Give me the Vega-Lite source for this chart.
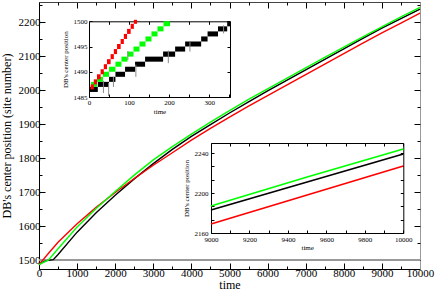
{
  "$schema": "https://vega.github.io/schema/vega-lite/v6.json",
  "width": 381,
  "height": 267,
  "autosize": {"type": "none"},
  "padding": {"left": 39, "top": 2, "right": 16, "bottom": 25},
  "background": "white",
  "config": {
    "view": {"stroke": null},
    "font": "Liberation Serif",
    "axis": {
      "labelFont": "Liberation Serif",
      "titleFont": "Liberation Serif",
      "titleFontWeight": "normal",
      "grid": false,
      "domainColor": "black",
      "tickColor": "black",
      "labelColor": "black",
      "titleColor": "black",
      "labelFlush": false,
      "labelOverlap": false,
      "labelBound": false,
      "format": "d"
    }
  },
  "datasets": {
    "main": [
      {"s": "A", "t": 0, "v": 1486.5}, {"s": "A", "t": 100, "v": 1494}, {"s": "A", "t": 200, "v": 1498}, {"s": "A", "t": 375, "v": 1501},
      {"s": "A", "t": 500, "v": 1516}, {"s": "A", "t": 1000, "v": 1582}, {"s": "A", "t": 1500, "v": 1639}, {"s": "A", "t": 2000, "v": 1691},
      {"s": "A", "t": 2500, "v": 1739}, {"s": "A", "t": 3000, "v": 1784}, {"s": "A", "t": 3500, "v": 1826}, {"s": "A", "t": 4000, "v": 1864},
      {"s": "A", "t": 4500, "v": 1899}, {"s": "A", "t": 5000, "v": 1933}, {"s": "A", "t": 5500, "v": 1966}, {"s": "A", "t": 6000, "v": 1998},
      {"s": "A", "t": 6500, "v": 2029}, {"s": "A", "t": 7000, "v": 2060}, {"s": "A", "t": 7500, "v": 2091}, {"s": "A", "t": 8000, "v": 2122},
      {"s": "A", "t": 8500, "v": 2153}, {"s": "A", "t": 9000, "v": 2183}, {"s": "A", "t": 9500, "v": 2211}, {"s": "A", "t": 10000, "v": 2239},
      {"s": "B", "t": 0, "v": 1486.5}, {"s": "B", "t": 250, "v": 1520}, {"s": "B", "t": 500, "v": 1552}, {"s": "B", "t": 1000, "v": 1607},
      {"s": "B", "t": 1500, "v": 1655}, {"s": "B", "t": 2000, "v": 1699}, {"s": "B", "t": 2500, "v": 1740}, {"s": "B", "t": 3000, "v": 1779},
      {"s": "B", "t": 3500, "v": 1816}, {"s": "B", "t": 4000, "v": 1853}, {"s": "B", "t": 4500, "v": 1888}, {"s": "B", "t": 5000, "v": 1921},
      {"s": "B", "t": 5500, "v": 1953}, {"s": "B", "t": 6000, "v": 1984}, {"s": "B", "t": 6500, "v": 2015}, {"s": "B", "t": 7000, "v": 2046},
      {"s": "B", "t": 7500, "v": 2077}, {"s": "B", "t": 8000, "v": 2108}, {"s": "B", "t": 8500, "v": 2139}, {"s": "B", "t": 9000, "v": 2169},
      {"s": "B", "t": 9500, "v": 2198}, {"s": "B", "t": 10000, "v": 2227},
      {"s": "C", "t": 0, "v": 1486.5}, {"s": "C", "t": 250, "v": 1500}, {"s": "C", "t": 500, "v": 1533}, {"s": "C", "t": 1000, "v": 1597},
      {"s": "C", "t": 1500, "v": 1652}, {"s": "C", "t": 2000, "v": 1702}, {"s": "C", "t": 2500, "v": 1750}, {"s": "C", "t": 3000, "v": 1795},
      {"s": "C", "t": 3500, "v": 1834}, {"s": "C", "t": 4000, "v": 1871}, {"s": "C", "t": 4500, "v": 1906}, {"s": "C", "t": 5000, "v": 1940},
      {"s": "C", "t": 5500, "v": 1973}, {"s": "C", "t": 6000, "v": 2004}, {"s": "C", "t": 6500, "v": 2035}, {"s": "C", "t": 7000, "v": 2066},
      {"s": "C", "t": 7500, "v": 2097}, {"s": "C", "t": 8000, "v": 2127}, {"s": "C", "t": 8500, "v": 2157}, {"s": "C", "t": 9000, "v": 2187},
      {"s": "C", "t": 9500, "v": 2216}, {"s": "C", "t": 10000, "v": 2244}
    ],
    "blocks": [
      {"s": "A", "t0": 0, "t1": 22, "lo": 1486, "hi": 1487}, {"s": "A", "t0": 22, "t1": 50, "lo": 1487, "hi": 1488},
      {"s": "A", "t0": 50, "t1": 66, "lo": 1488, "hi": 1489}, {"s": "A", "t0": 66, "t1": 90, "lo": 1489, "hi": 1490},
      {"s": "A", "t0": 90, "t1": 115, "lo": 1490, "hi": 1491}, {"s": "A", "t0": 115, "t1": 140, "lo": 1491, "hi": 1492},
      {"s": "A", "t0": 140, "t1": 185, "lo": 1492, "hi": 1493}, {"s": "A", "t0": 185, "t1": 215, "lo": 1493, "hi": 1494},
      {"s": "A", "t0": 215, "t1": 240, "lo": 1494, "hi": 1495}, {"s": "A", "t0": 240, "t1": 280, "lo": 1495, "hi": 1496},
      {"s": "A", "t0": 280, "t1": 296, "lo": 1496, "hi": 1497}, {"s": "A", "t0": 296, "t1": 322, "lo": 1497, "hi": 1498},
      {"s": "A", "t0": 322, "t1": 345, "lo": 1498, "hi": 1499}, {"s": "A", "t0": 345, "t1": 352, "lo": 1499, "hi": 1500},
      {"s": "C", "t0": 5, "t1": 20, "lo": 1487, "hi": 1488}, {"s": "C", "t0": 20, "t1": 35, "lo": 1488, "hi": 1489},
      {"s": "C", "t0": 35, "t1": 50, "lo": 1489, "hi": 1490}, {"s": "C", "t0": 50, "t1": 66, "lo": 1490, "hi": 1491},
      {"s": "C", "t0": 66, "t1": 81, "lo": 1491, "hi": 1492}, {"s": "C", "t0": 81, "t1": 96, "lo": 1492, "hi": 1493},
      {"s": "C", "t0": 96, "t1": 111, "lo": 1493, "hi": 1494}, {"s": "C", "t0": 111, "t1": 126, "lo": 1494, "hi": 1495},
      {"s": "C", "t0": 126, "t1": 141, "lo": 1495, "hi": 1496}, {"s": "C", "t0": 141, "t1": 156, "lo": 1496, "hi": 1497},
      {"s": "C", "t0": 156, "t1": 171, "lo": 1497, "hi": 1498}, {"s": "C", "t0": 171, "t1": 186, "lo": 1498, "hi": 1499},
      {"s": "C", "t0": 186, "t1": 202, "lo": 1499, "hi": 1500},
      {"s": "B", "t0": 4, "t1": 12, "lo": 1486.5, "hi": 1487.5}, {"s": "B", "t0": 12, "t1": 20, "lo": 1487.5, "hi": 1488.5},
      {"s": "B", "t0": 20, "t1": 29, "lo": 1488.5, "hi": 1489.5}, {"s": "B", "t0": 29, "t1": 37, "lo": 1489.5, "hi": 1490.5},
      {"s": "B", "t0": 37, "t1": 45, "lo": 1490.5, "hi": 1491.5}, {"s": "B", "t0": 45, "t1": 54, "lo": 1491.5, "hi": 1492.5},
      {"s": "B", "t0": 54, "t1": 62, "lo": 1492.5, "hi": 1493.5}, {"s": "B", "t0": 62, "t1": 70, "lo": 1493.5, "hi": 1494.5},
      {"s": "B", "t0": 70, "t1": 79, "lo": 1494.5, "hi": 1495.5}, {"s": "B", "t0": 79, "t1": 87, "lo": 1495.5, "hi": 1496.5},
      {"s": "B", "t0": 87, "t1": 95, "lo": 1496.5, "hi": 1497.5}, {"s": "B", "t0": 95, "t1": 104, "lo": 1497.5, "hi": 1498.5},
      {"s": "B", "t0": 104, "t1": 112, "lo": 1498.5, "hi": 1499.5}, {"s": "B", "t0": 112, "t1": 120, "lo": 1499.5, "hi": 1500.3}
    ],
    "spikes": [
      {"s": "A", "t": 36, "lo": 1485.8, "hi": 1488.2}, {"s": "A", "t": 49, "lo": 1485.2, "hi": 1487.8},
      {"s": "A", "t": 61, "lo": 1487, "hi": 1489}, {"s": "A", "t": 117, "lo": 1489, "hi": 1491.4},
      {"s": "A", "t": 198, "lo": 1491.7, "hi": 1494.2}, {"s": "A", "t": 252, "lo": 1494, "hi": 1495.9},
      {"s": "A", "t": 336, "lo": 1497.6, "hi": 1499.2}, {"s": "C", "t": 97, "lo": 1492.3, "hi": 1494.1}
    ],
    "ref": [{"level": 1500}]
  },
  "layer": [
    {
      "data": {"name": "ref"},
      "mark": {"type": "rule", "color": "#999999", "strokeWidth": 2},
      "encoding": {
        "y": {"field": "level", "type": "quantitative",
          "scale": {"domain": [1473.5, 2260], "nice": false, "zero": false},
          "axis": {"orient": "left", "values": [1500,1550,1600,1650,1700,1750,1800,1850,1900,1950,2000,2050,2100,2150,2200,2250], "labels": false, "domain": false, "tickSize": -3, "title": null}}
      }
    },
    {
      "data": {"name": "main"},
      "mark": {"type": "line", "strokeWidth": 1.4},
      "encoding": {
        "x": {"field": "t", "type": "quantitative",
          "scale": {"domain": [0, 10000], "nice": false, "zero": false},
          "axis": {"orient": "bottom", "values": [0,1000,2000,3000,4000,5000,6000,7000,8000,9000,10000], "tickSize": -6, "labelPadding": 4, "labelFontSize": 11, "title": "time", "titleFontSize": 12, "titlePadding": 1}},
        "y": {"field": "v", "type": "quantitative",
          "scale": {"domain": [1473.5, 2260], "nice": false, "zero": false},
          "axis": {"orient": "left", "values": [1500,1600,1700,1800,1900,2000,2100,2200], "tickSize": -6, "labelPadding": 5, "labelFontSize": 11, "title": "DB's center position (site number)", "titleFontSize": 12, "titlePadding": 5}},
        "color": {"field": "s", "type": "nominal", "scale": {"domain": ["A", "B", "C"], "range": ["#000000", "#ff0000", "#00ff00"]}, "legend": null}
      }
    },
    {
      "data": {"name": "main"},
      "mark": {"type": "line", "strokeOpacity": 0},
      "encoding": {
        "x": {"field": "t", "type": "quantitative",
          "scale": {"domain": [0, 10000], "nice": false, "zero": false},
          "axis": {"orient": "bottom", "values": [500,1500,2500,3500,4500,5500,6500,7500,8500,9500], "labels": false, "domain": false, "tickSize": -3, "title": null}},
        "y": {"field": "v", "type": "quantitative",
          "scale": {"domain": [1473.5, 2260], "nice": false, "zero": false},
          "axis": {"orient": "right", "values": [1500,1600,1700,1800,1900,2000,2100,2200], "labels": false, "domainColor": "#999999", "tickSize": -6, "title": null}}
      }
    },
    {
      "data": {"name": "main"},
      "mark": {"type": "line", "strokeOpacity": 0},
      "encoding": {
        "x": {"field": "t", "type": "quantitative",
          "scale": {"domain": [0, 10000], "nice": false, "zero": false},
          "axis": {"orient": "top", "values": [0,1000,2000,3000,4000,5000,6000,7000,8000,9000,10000], "labels": false, "domainColor": "#444444", "tickSize": -6, "title": null}},
        "y": {"field": "v", "type": "quantitative",
          "scale": {"domain": [1473.5, 2260], "nice": false, "zero": false},
          "axis": {"orient": "right", "values": [1500,1550,1600,1650,1700,1750,1800,1850,1900,1950,2000,2050,2100,2150,2200,2250], "labels": false, "domain": false, "tickSize": -3, "title": null}}
      }
    },
    {
      "data": {"name": "main"},
      "mark": {"type": "line", "strokeOpacity": 0},
      "encoding": {
        "x": {"field": "t", "type": "quantitative",
          "scale": {"domain": [0, 10000], "nice": false, "zero": false},
          "axis": {"orient": "top", "values": [500,1500,2500,3500,4500,5500,6500,7500,8500,9500], "labels": false, "domain": false, "tickSize": -3, "title": null}},
        "y": {"field": "v", "type": "quantitative",
          "scale": {"domain": [1473.5, 2260], "nice": false, "zero": false}, "axis": null}
      }
    },
    {
      "data": {"name": "blocks"},
      "mark": {"type": "rect"},
      "encoding": {
        "x": {"field": "t0", "type": "quantitative",
          "scale": {"domain": [0, 352], "range": [50, 191], "nice": false, "zero": false},
          "axis": {"orient": "bottom", "offset": -172, "values": [0,50,100,150,200,250,300,350], "labelExpr": "datum.value % 100 === 0 ? datum.label : ''", "tickSize": -3, "labelPadding": 4, "labelFontSize": 7, "title": "time", "titleFontSize": 7, "titlePadding": 2}},
        "x2": {"field": "t1"},
        "y": {"field": "lo", "type": "quantitative",
          "scale": {"domain": [1485, 1500], "range": [95, 19.3], "nice": false, "zero": false},
          "axis": {"orient": "left", "offset": -50, "values": [1485,1490,1495,1500], "tickSize": -3, "labelPadding": 5, "labelFontSize": 7, "title": "DB's center position", "titleFontSize": 7, "titlePadding": 5}},
        "y2": {"field": "hi"},
        "color": {"field": "s", "type": "nominal", "scale": {"domain": ["A", "B", "C"], "range": ["#000000", "#ff0000", "#00ff00"]}, "legend": null}
      }
    },
    {
      "data": {"name": "spikes"},
      "mark": {"type": "rule", "strokeWidth": 1, "color": "#888888"},
      "encoding": {
        "x": {"field": "t", "type": "quantitative",
          "scale": {"domain": [0, 352], "range": [50, 191], "nice": false, "zero": false},
          "axis": {"orient": "top", "offset": -19.3, "values": [0,50,100,150,200,250,300,350], "labels": false, "tickSize": -3, "title": null}},
        "y": {"field": "lo", "type": "quantitative",
          "scale": {"domain": [1485, 1500], "range": [95, 19.3], "nice": false, "zero": false},
          "axis": {"orient": "right", "offset": -190, "values": [1485,1490,1495,1500], "labels": false, "tickSize": -3, "title": null}},
        "y2": {"field": "hi"}
      }
    },
    {
      "data": {"name": "main"},
      "transform": [{"filter": "datum.t >= 9000"}],
      "mark": {"type": "line", "strokeWidth": 1.8},
      "encoding": {
        "x": {"field": "t", "type": "quantitative",
          "scale": {"domain": [9000, 10000], "range": [172, 364.3], "nice": false, "zero": false},
          "axis": {"orient": "bottom", "offset": -36, "values": [9000,9100,9200,9300,9400,9500,9600,9700,9800,9900,10000], "labelExpr": "datum.value % 200 === 0 ? datum.label : ''", "tickSize": -3, "labelPadding": 5, "labelFontSize": 7, "title": "time", "titleFontSize": 7, "titlePadding": 1}},
        "y": {"field": "v", "type": "quantitative",
          "scale": {"domain": [2160, 2250], "range": [231, 141], "nice": false, "zero": false},
          "axis": {"orient": "left", "offset": -172, "values": [2160,2173.33,2186.67,2200,2213.33,2226.67,2240], "labelExpr": "datum.value % 40 === 0 ? datum.label : ''", "tickSize": -3, "labelPadding": 6, "labelFontSize": 7, "title": "DB's center position", "titleFontSize": 7, "titlePadding": 5}},
        "color": {"field": "s", "type": "nominal", "scale": {"domain": ["A", "B", "C"], "range": ["#000000", "#ff0000", "#00ff00"]}, "legend": null}
      }
    },
    {
      "data": {"name": "main"},
      "transform": [{"filter": "datum.t >= 9000"}],
      "mark": {"type": "line", "strokeOpacity": 0},
      "encoding": {
        "x": {"field": "t", "type": "quantitative",
          "scale": {"domain": [9000, 10000], "range": [172, 364.3], "nice": false, "zero": false},
          "axis": {"orient": "top", "offset": -141, "values": [9000,9100,9200,9300,9400,9500,9600,9700,9800,9900,10000], "labels": false, "tickSize": -3, "title": null}},
        "y": {"field": "v", "type": "quantitative",
          "scale": {"domain": [2160, 2250], "range": [231, 141], "nice": false, "zero": false},
          "axis": {"orient": "right", "offset": -16.7, "values": [2160,2173.33,2186.67,2200,2213.33,2226.67,2240], "labels": false, "tickSize": -3, "title": null}}
      }
    }
  ],
  "resolve": {
    "scale": {"x": "independent", "y": "independent", "color": "independent"},
    "axis": {"x": "independent", "y": "independent"}
  }
}
